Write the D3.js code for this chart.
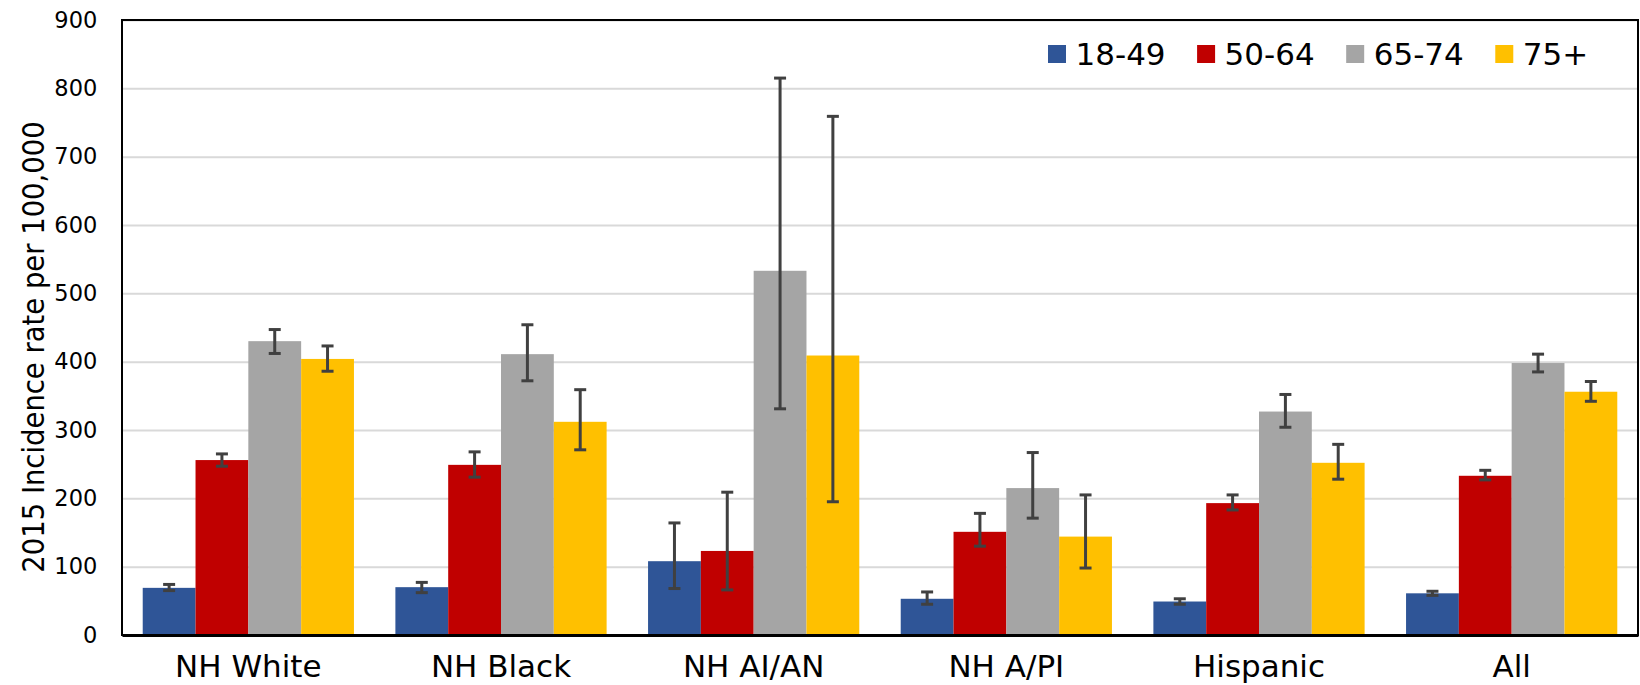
<!DOCTYPE html>
<html>
<head>
<meta charset="utf-8">
<script src="https://cdn.jsdelivr.net/npm/d3@7"></script>
<style>
  html, body { margin: 0; padding: 0; background: #fff; }
  svg { display: block; }
  .cond { font-family: "DejaVu Sans Condensed", "DejaVu Sans", sans-serif; font-stretch: condensed; }
  .verd { font-family: "DejaVu Sans", Verdana, sans-serif; }
</style>
</head>
<body>
<svg id="chart" width="1640" height="685"></svg>
<script>
// Race / ethnicity groups along the x axis
const categories = ["NH White", "NH Black", "NH AI/AN", "NH A/PI", "Hispanic", "All"];
// Age groups (one bar per group within each category)
const ageGroups = ["18-49", "50-64", "65-74", "75+"];
const ageColors = ["#2F5597", "#C00000", "#A5A5A5", "#FFC000"];

// 2015 incidence rate per 100,000, by age group
const rate18to49 = [69, 70, 108, 53, 49, 61];
const rate50to64 = [256, 249, 123, 151, 193, 233];
const rate65to74 = [430, 411, 533, 215, 327, 398];
const rate75plus = [404, 312, 409, 144, 252, 356];

// 95% confidence limits
const lower18to49 = [65, 62, 68, 45, 45, 58];
const upper18to49 = [74, 77, 164, 63, 53, 64];
const lower50to64 = [247, 231, 66, 130, 183, 227];
const upper50to64 = [265, 268, 209, 178, 205, 241];
const lower65to74 = [412, 372, 331, 171, 304, 385];
const upper65to74 = [447, 454, 815, 267, 352, 411];
const lower75plus = [386, 271, 195, 98, 228, 342];
const upper75plus = [423, 359, 759, 205, 279, 371];

// y axis ticks
const yTicks = [0, 100, 200, 300, 400, 500, 600, 700, 800, 900];
const yTitle = "2015 Incidence rate per 100,000";

const rates = [rate18to49, rate50to64, rate65to74, rate75plus];
const lowers = [lower18to49, lower50to64, lower65to74, lower75plus];
const uppers = [upper18to49, upper50to64, upper65to74, upper75plus];

const records = [];
categories.forEach((cat, ci) => {
  ageGroups.forEach((age, ai) => {
    records.push({ cat, age, ai, value: rates[ai][ci], lo: lowers[ai][ci], hi: uppers[ai][ci] });
  });
});

const plot = { left: 122, right: 1638, top: 20, bottom: 635 };
const svg = d3.select("#chart");

const x0 = d3.scaleBand().domain(categories).range([plot.left, plot.right])
  .paddingInner(0.164).paddingOuter(0.082);
const x1 = d3.scaleBand().domain(ageGroups).range([0, x0.bandwidth()]);
const y = d3.scaleLinear().domain([0, 900]).range([plot.bottom, plot.top]);
const color = d3.scaleOrdinal().domain(ageGroups).range(ageColors);

// horizontal gridlines
const grid = svg.append("g")
  .attr("transform", `translate(${plot.left},0)`)
  .call(d3.axisLeft(y).tickValues(yTicks).tickSize(-(plot.right - plot.left)).tickFormat(""));
grid.select(".domain").remove();
grid.selectAll(".tick line").attr("stroke", "#D9D9D9").attr("stroke-width", 2);

// bars
svg.append("g").selectAll("rect")
  .data(records)
  .join("rect")
  .attr("x", d => x0(d.cat) + x1(d.age))
  .attr("width", x1.bandwidth())
  .attr("y", d => y(d.value))
  .attr("height", d => y(0) - y(d.value))
  .attr("fill", d => color(d.age));

// error bars
const capHalf = 6;
const eb = svg.append("g").attr("stroke", "#404040").attr("stroke-width", 3).attr("fill", "none");
records.forEach(d => {
  const cx = x0(d.cat) + x1(d.age) + x1.bandwidth() / 2;
  eb.append("line").attr("x1", cx).attr("x2", cx).attr("y1", y(d.lo)).attr("y2", y(d.hi));
  eb.append("line").attr("x1", cx - capHalf).attr("x2", cx + capHalf).attr("y1", y(d.lo)).attr("y2", y(d.lo));
  eb.append("line").attr("x1", cx - capHalf).attr("x2", cx + capHalf).attr("y1", y(d.hi)).attr("y2", y(d.hi));
});

// plot frame
svg.append("rect")
  .attr("x", plot.left).attr("y", plot.top)
  .attr("width", plot.right - plot.left).attr("height", plot.bottom - plot.top)
  .attr("fill", "none").attr("stroke", "#000").attr("stroke-width", 2);

// y axis labels
const yAxis = svg.append("g")
  .attr("transform", `translate(${plot.left},0)`)
  .call(d3.axisLeft(y).tickValues(yTicks).tickSize(0).tickPadding(24.7));
yAxis.select(".domain").remove();
yAxis.selectAll("text").attr("class", "verd").attr("font-size", 22.5).attr("fill", "#000");

// x axis (category labels) with baseline
const xAxis = svg.append("g")
  .attr("transform", `translate(0,${plot.bottom})`)
  .call(d3.axisBottom(x0).tickSize(0));
xAxis.select(".domain").attr("stroke", "#000").attr("stroke-width", 3);
xAxis.selectAll("text").attr("class", "verd").attr("font-size", 31).attr("fill", "#000")
  .attr("y", 42).attr("dy", null);

// y axis title
svg.append("text")
  .attr("class", "cond")
  .attr("transform", `translate(44,347) rotate(-90)`)
  .attr("text-anchor", "middle")
  .attr("font-size", 30.5)
  .attr("fill", "#000")
  .text(yTitle);

// legend
const legend = svg.append("g").attr("class", "verd");
let lx = 1048;
ageGroups.forEach(age => {
  legend.append("rect").attr("x", lx).attr("y", 45).attr("width", 18).attr("height", 18).attr("fill", color(age));
  const t = legend.append("text").attr("x", lx + 27.5).attr("y", 65)
    .attr("font-size", 31).attr("fill", "#000").text(age);
  lx += 27.5 + t.node().getComputedTextLength() + 31.5;
});
</script>
</body>
</html>
